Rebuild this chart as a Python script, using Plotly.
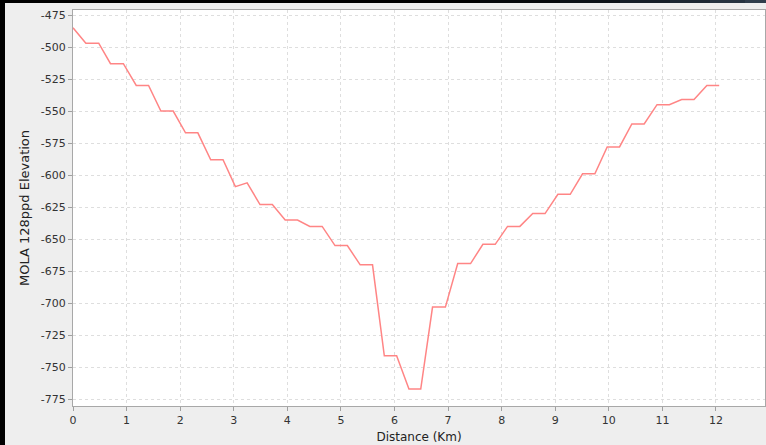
import plotly.graph_objects as go

# Elevation profile sampled along the traverse
distance_km = [0.00, 0.24, 0.48, 0.70, 0.94, 1.18, 1.41, 1.64, 1.87, 2.10,
               2.33, 2.57, 2.80, 3.03, 3.25, 3.49, 3.72, 3.96, 4.19, 4.42,
               4.65, 4.89, 5.12, 5.36, 5.59, 5.81, 6.04, 6.27, 6.49, 6.71,
               6.95, 7.18, 7.42, 7.65, 7.88, 8.11, 8.34, 8.58, 8.81, 9.05,
               9.28, 9.51, 9.74, 9.97, 10.20, 10.43, 10.66, 10.90, 11.13, 11.36,
               11.59, 11.83, 12.06]
elevation = [-485, -497, -497, -513, -513, -530, -530, -550, -550, -567,
             -567, -588, -588, -609, -606, -623, -623, -635, -635, -640,
             -640, -655, -655, -670, -670, -741, -741, -767, -767, -703,
             -703, -669, -669, -654, -654, -640, -640, -630, -630, -615,
             -615, -599, -599, -578, -578, -560, -560, -545, -545, -541,
             -541, -530, -530]

x_ticks = list(range(0, 13))
y_ticks = [-475, -500, -525, -550, -575, -600, -625, -650, -675, -700, -725, -750, -775]
y_tick_text = ["-475", "-500", "-525", "-550", "-575", "-600", "-625", "-650",
               "-675", "-700", "-725", "-750", "-775"]

W, H = 766, 445
ML, MR, MT, MB = 73, 1, 10, 39
PW, PH = W - ML - MR, H - MT - MB

fig = go.Figure()
fig.add_trace(go.Scatter(
    x=distance_km, y=elevation, mode="lines",
    line=dict(color="#ff8585", width=1.5),
    showlegend=False,
))

axis_common = dict(
    showline=True, linecolor="#a8a8a8", linewidth=1, mirror=True,
    showgrid=True, gridcolor="#dedede", gridwidth=1, griddash="3px,3px",
    zeroline=False, ticks="outside", ticklen=4, tickcolor="#a0a0a0",
    tickfont=dict(family="DejaVu Sans", size=11, color="#333333"),
)

fig.update_xaxes(
    range=[0, 12.915], tickvals=x_ticks,
    title=dict(text="Distance (Km)", font=dict(family="DejaVu Sans", size=12, color="#222222"),
               standoff=6),
    **axis_common,
)
fig.update_yaxes(
    range=[-780.2, -471.1], tickvals=y_ticks, ticktext=y_tick_text,
    title=dict(text="MOLA 128ppd Elevation", font=dict(family="DejaVu Sans", size=13, color="#222222"),
               standoff=8),
    **axis_common,
)


def px_x(p):
    return (p - ML) / PW


def px_y(p):
    return (H - MB - p) / PH


# Dark window frame along the left and top edges
shapes = [
    dict(type="rect", xref="paper", yref="paper",
         x0=px_x(0), x1=px_x(5), y0=px_y(H), y1=px_y(0),
         fillcolor="#000000", line_width=0, layer="above"),
]
top_cols = ["#000000", "#05080b", "#0c1218", "#141d26", "#1d2833", "#263340", "#2f3d4b"]
seg_starts = [0, 480, 560, 620, 670, 710, 745]
for i, c in enumerate(top_cols):
    x_end = seg_starts[i + 1] if i + 1 < len(seg_starts) else W
    shapes.append(dict(type="rect", xref="paper", yref="paper",
                       x0=px_x(seg_starts[i]), x1=px_x(x_end), y0=px_y(3), y1=px_y(0),
                       fillcolor=c, line_width=0, layer="above"))

fig.update_layout(
    width=W, height=H,
    margin=dict(l=ML, r=MR, t=MT, b=MB),
    paper_bgcolor="#eeeeee", plot_bgcolor="#ffffff",
    shapes=shapes,
)

fig.write_html("out.html")
